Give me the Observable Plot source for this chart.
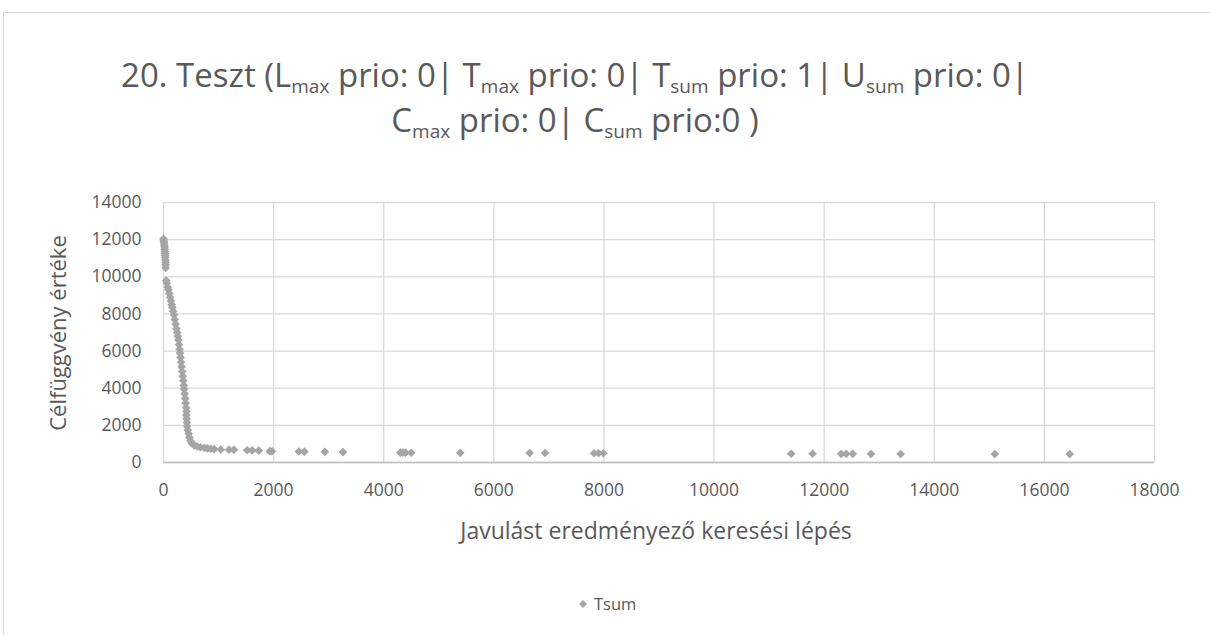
<!DOCTYPE html>
<html>
<head>
<meta charset="utf-8">
<script src="https://cdn.jsdelivr.net/npm/d3@7"></script>
<script src="https://cdn.jsdelivr.net/npm/@observablehq/plot@0.6"></script>
<style>
  html, body { margin: 0; padding: 0; background: #fff; }
  body { width: 1210px; height: 635px; position: relative; overflow: hidden; font-family: "Open Sans", "Liberation Sans", sans-serif; color: #595959; }
  #frame { position: absolute; left: 3px; top: 12px; width: 1230px; height: 660px; border: 1px solid #d9d9d9; box-sizing: border-box; }
  #title { position: absolute; left: 0; width: 1150px; top: 52px; text-align: center; font-size: 33px; line-height: 45px; color: #595959; }
  #title sub { font-size: 19px; vertical-align: -6px; line-height: 0; }
  #chart { position: absolute; left: 0; top: 180px; }
  #ylabel { position: absolute; left: 57px; top: 333px; transform: translate(-50%, -50%) rotate(-90deg); font-size: 22px; white-space: nowrap; }
  #xlabel { position: absolute; left: 656px; top: 530px; transform: translate(-50%, -50%); font-size: 23px; white-space: nowrap; }
  #legend { position: absolute; left: 578px; top: 592px; font-size: 16.5px; white-space: nowrap; display: flex; align-items: center; }
  #legend svg { margin-right: 6px; }
</style>
</head>
<body>
<div id="frame"></div>
<div id="title">20. Teszt (L<sub>max</sub> prio: 0| T<sub>max</sub> prio: 0| T<sub>sum</sub> prio: 1| U<sub>sum</sub> prio: 0|<br>C<sub>max</sub> prio: 0| C<sub>sum</sub> prio:0 )</div>
<div id="chart"></div>
<div id="ylabel">Célfüggvény értéke</div>
<div id="xlabel">Javulást eredményező keresési lépés</div>
<div id="legend"></div>
<script>
// Data (estimated)
const seriesName = "Tsum";
const steps = [
  0, 3, 6, 10, 14, 18, 22, 26, 28, 30, 32, 34, 36, 38, 40,
  50, 60, 75, 90, 105, 120, 135, 150, 160, 175, 190, 205, 220, 235, 250, 262, 272, 282, 292,
  300, 310, 320, 330, 340, 350, 360, 368, 375, 385, 395, 405, 412, 418, 415, 420, 425, 430,
  440, 455, 470, 490, 520, 560, 610, 670, 740, 800, 860, 920, 1040, 1190, 1280,
  1520, 1610, 1730, 1930, 1970, 2460, 2560, 2930, 3260,
  4300, 4350, 4400, 4500, 5390, 6650, 6930, 7820, 7900, 7990,
  11400, 11790, 12310, 12400, 12520, 12850, 13390, 15100, 16460
];
const values = [
  12050, 11980, 11900, 11820, 11700, 11600, 11480, 11350, 11250, 11150, 11050, 10900, 10780, 10650, 10480,
  9800, 9650, 9450, 9300, 9100, 8900, 8700, 8500, 8350, 8150, 7950, 7700, 7450, 7200, 7000, 6800, 6600, 6350, 6100,
  5900, 5650, 5400, 5150, 4900, 4650, 4400, 4150, 3950, 3700, 3450, 3200, 2950, 2750, 2550, 2350, 2150, 1950,
  1750, 1550, 1350, 1170, 1020, 920, 860, 820, 790, 760, 740, 720, 700, 690, 680,
  660, 650, 640, 610, 605, 590, 585, 575, 560,
  530, 530, 525, 525, 520, 510, 510, 500, 500, 500,
  470, 470, 465, 465, 465, 460, 460, 455, 455
];
const xTicks = [0, 2000, 4000, 6000, 8000, 10000, 12000, 14000, 16000, 18000];
const yTicks = [0, 2000, 4000, 6000, 8000, 10000, 12000, 14000];

const data = steps.map((s, i) => ({step: s, value: values[i]}));
const gray = "#a5a5a5";

const chart = Plot.plot({
  width: 1210,
  height: 380,
  marginLeft: 163,
  marginRight: 56,
  marginTop: 22,
  marginBottom: 98,
  style: {fontFamily: "'Open Sans', sans-serif", fontSize: "17.5px", color: "#595959", background: "transparent"},
  x: {domain: [0, 18000], label: null},
  y: {domain: [0, 14000], label: null},
  marks: [
    Plot.gridX(xTicks, {stroke: "#d9d9d9", strokeOpacity: 1, strokeWidth: 1.3}),
    Plot.gridY(yTicks, {stroke: "#d9d9d9", strokeOpacity: 1, strokeWidth: 1.3}),
    Plot.ruleY([0], {stroke: "#bfbfbf", strokeWidth: 1.5}),
    Plot.axisX({ticks: xTicks, tickSize: 0, tickPadding: 21, fontSize: 17.5, label: null, tickFormat: d => String(d)}),
    Plot.axisY({ticks: yTicks, tickSize: 0, tickPadding: 22, fontSize: 17.5, label: null, tickFormat: d => String(d)}),
    Plot.dot(data, {x: "step", y: "value", symbol: "diamond2", r: 3.9, fill: gray, stroke: "none"})
  ]
});
document.getElementById("chart").appendChild(chart);

// Legend
const leg = document.getElementById("legend");
const ls = d3.create("svg").attr("width", 10).attr("height", 10);
ls.append("path").attr("d", d3.symbol(d3.symbolDiamond2, 40)()).attr("transform", "translate(5,5)").attr("fill", gray);
leg.appendChild(ls.node());
const lt = document.createElement("span");
lt.textContent = seriesName;
leg.appendChild(lt);
</script>
</body>
</html>
